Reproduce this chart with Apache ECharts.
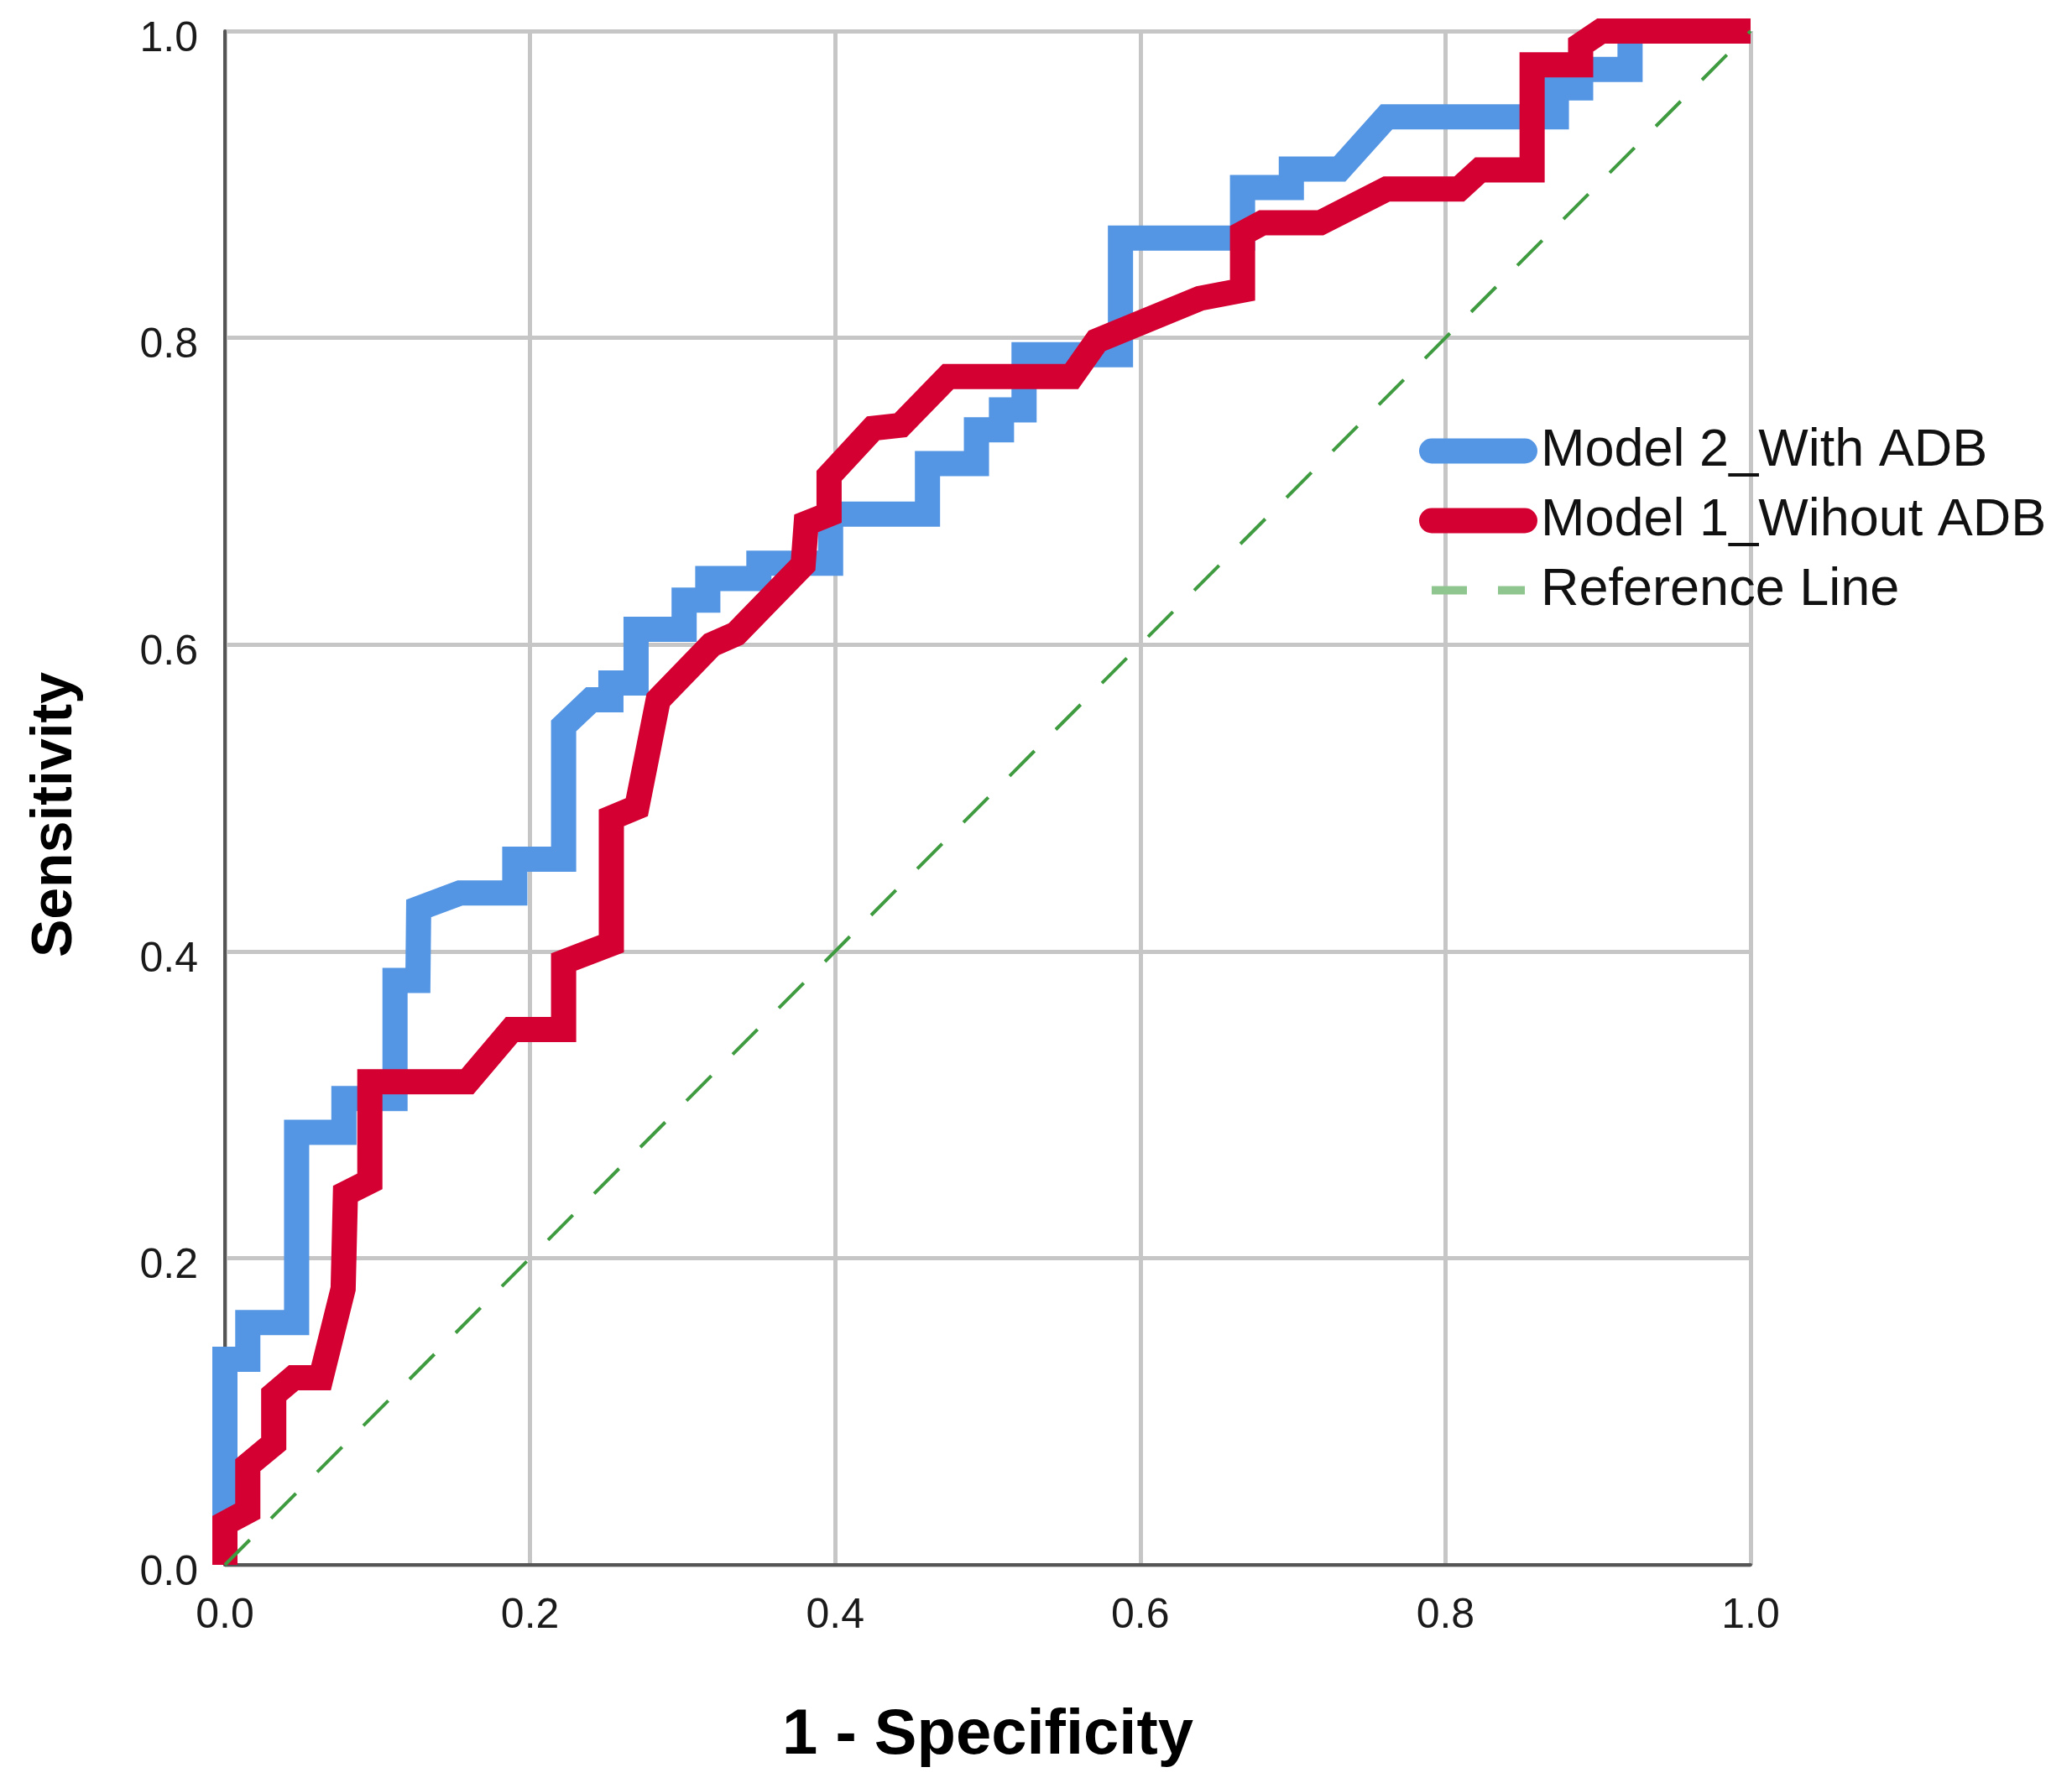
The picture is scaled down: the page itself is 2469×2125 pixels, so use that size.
<!doctype html>
<html>
	<head>
		<meta charset="UTF-8">
		<title>ROC</title>
		<script src="https://cdn.jsdelivr.net/npm/echarts@6.0.0/dist/echarts.min.js"></script>
		<style>
			html, body { margin: 0; padding: 0; background: #fff; }
			#main { width: 2469px; height: 2125px; }
		</style>
	</head>
	<body>
		<div id="main"></div>
		<script type="text/javascript">
			// 坐标刻度
			var ticks = [0, 0.2, 0.4, 0.6, 0.8, 1.0];
			var seriesNames = ['Model 2_With ADB', 'Model 1_Wihout ADB', 'Reference Line'];

			// Model 2 (蓝线) 1 - Specificity / Sensitivity
			var m2X = [0, 0, 0.015, 0.015, 0.047, 0.047, 0.078, 0.078, 0.1115, 0.1115, 0.1265, 0.127, 0.154, 0.19, 0.19, 0.222, 0.222, 0.24, 0.253, 0.253, 0.2695, 0.2695, 0.301, 0.301, 0.3165, 0.3165, 0.35, 0.35, 0.397, 0.397, 0.4605, 0.4605, 0.4926, 0.4926, 0.509, 0.509, 0.5238, 0.5238, 0.587, 0.587, 0.667, 0.667, 0.699, 0.699, 0.7307, 0.7614, 0.8727, 0.8727, 0.8886, 0.8886, 0.921, 0.921, 1.0];
			var m2Y = [0, 0.134, 0.134, 0.158, 0.158, 0.282, 0.282, 0.304, 0.304, 0.381, 0.381, 0.428, 0.438, 0.438, 0.46, 0.46, 0.547, 0.564, 0.564, 0.575, 0.575, 0.61, 0.61, 0.629, 0.629, 0.643, 0.643, 0.653, 0.653, 0.685, 0.685, 0.718, 0.718, 0.74, 0.74, 0.753, 0.753, 0.789, 0.789, 0.865, 0.865, 0.898, 0.898, 0.91, 0.91, 0.944, 0.944, 0.963, 0.963, 0.975, 0.975, 1.0, 1.0];

			// Model 1 (红线)
			var m1X = [0, 0, 0.015, 0.015, 0.032, 0.032, 0.045, 0.063, 0.0775, 0.079, 0.095, 0.095, 0.159, 0.188, 0.222, 0.222, 0.2533, 0.2533, 0.27, 0.284, 0.319, 0.335, 0.379, 0.381, 0.396, 0.396, 0.4248, 0.443, 0.474, 0.555, 0.5715, 0.639, 0.667, 0.667, 0.68, 0.718, 0.7614, 0.809, 0.8227, 0.8568, 0.8568, 0.8886, 0.8886, 0.902, 1.0];
			var m1Y = [0, 0.027, 0.035, 0.065, 0.079, 0.111, 0.122, 0.122, 0.18, 0.242, 0.25, 0.315, 0.315, 0.349, 0.349, 0.393, 0.405, 0.487, 0.494, 0.564, 0.6, 0.607, 0.652, 0.679, 0.685, 0.71, 0.741, 0.743, 0.7747, 0.7747, 0.798, 0.8257, 0.831, 0.868, 0.875, 0.875, 0.897, 0.897, 0.9095, 0.9095, 0.978, 0.978, 0.991, 1.0, 1.0];

			// 参考线
			var refX = [0, 1];
			var refY = [0, 1];

			function pairs(xs, ys) {
				var out = [];
				for (var i = 0; i < xs.length; i++) {
					out.push([xs[i], ys[i]]);
				}
				return out;
			}

			var font = 'Liberation Sans, Arial, sans-serif';
			// 图例里不要圆点
			var noDot = { color: 'rgba(0,0,0,0)', borderWidth: 0 };

			function axisOpt(name, nameGap, nameSize) {
				return {
					type: 'value',
					min: ticks[0],
					max: ticks[ticks.length - 1],
					interval: 0.2,
					name: name,
					nameLocation: 'middle',
					nameGap: nameGap,
					nameTextStyle: { fontFamily: font, fontSize: nameSize, fontWeight: 'bold', color: '#000' },
					axisLine: { show: true, lineStyle: { color: '#555', width: 4 } },
					axisTick: { show: false },
					splitLine: { show: true, lineStyle: { color: '#c6c6c6', width: 5 } },
					axisLabel: {
						fontFamily: font,
						fontSize: 50,
						color: '#1a1a1a',
						formatter: function (v) { return v.toFixed(1); }
					}
				};
			}

			var xAxis = axisOpt('1 - Specificity', 166, 76);
			xAxis.axisLabel.margin = 36;
			var yAxis = axisOpt('Sensitivity', 168, 68);
			yAxis.nameRotate = 90;
			yAxis.nameTextStyle.padding = [0, 40, 0, 0];
			yAxis.axisLabel.margin = 32;
			// 标签略低于网格线
			yAxis.axisLabel.verticalAlign = 'top';
			yAxis.axisLabel.lineHeight = 20;

			var myChart = echarts.init(document.getElementById('main'), null, { renderer: 'canvas' });
			var option = {
				backgroundColor: '#fff',
				animation: false,
				grid: { left: 268, right: 383, top: 37, bottom: 260, outerBoundsMode: 'none' },
				xAxis: xAxis,
				yAxis: yAxis,
				legend: {
					orient: 'vertical',
					left: 1691,
					top: 506,
					padding: 0,
					itemWidth: 111,
					itemHeight: 36,
					itemGap: 20,
					selectedMode: false,
					textStyle: { fontFamily: font, fontSize: 63, color: '#111', padding: [0, 0, 0, 14] },
					data: [
						{ name: seriesNames[0], lineStyle: { width: 30, cap: 'round' }, itemStyle: noDot },
						{ name: seriesNames[1], lineStyle: { width: 30, cap: 'round' }, itemStyle: noDot },
						{ name: seriesNames[2], lineStyle: { width: 10, color: '#8fc68f', type: [42, 37] }, itemStyle: noDot }
					]
				},
				series: [
					{
						name: seriesNames[0],
						type: 'line',
						symbol: 'none',
						clip: false,
						color: '#5596e4',
						lineStyle: { width: 30, color: '#5596e4', join: 'miter' },
						data: pairs(m2X, m2Y)
					},
					{
						name: seriesNames[1],
						type: 'line',
						symbol: 'none',
						clip: false,
						color: '#d50032',
						lineStyle: { width: 30, color: '#d50032', join: 'miter' },
						data: pairs(m1X, m1Y)
					},
					{
						name: seriesNames[2],
						type: 'line',
						symbol: 'none',
						color: '#3f9b3f',
						lineStyle: { width: 4, color: '#3f9b3f', type: [42, 36] },
						data: pairs(refX, refY)
					}
				]
			};
			myChart.setOption(option);
		</script>
	</body>
</html>
